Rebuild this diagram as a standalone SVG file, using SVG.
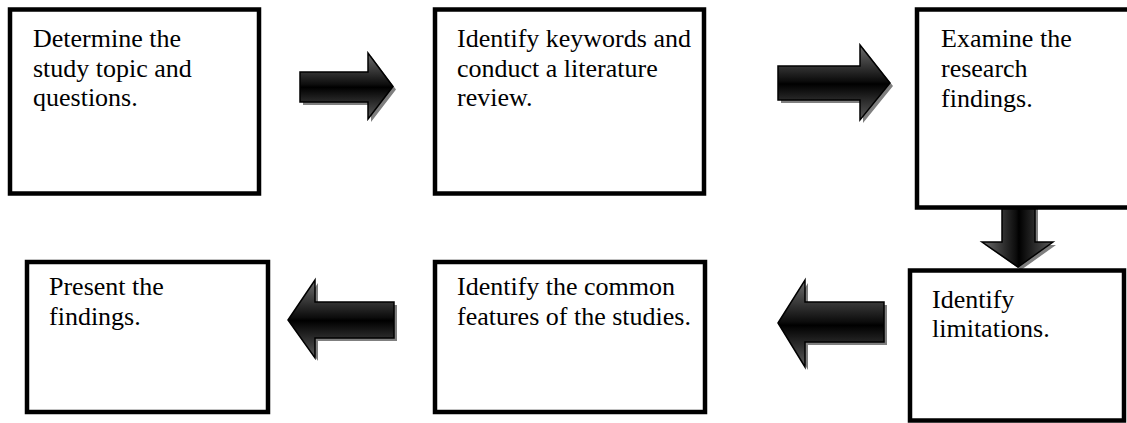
<svg xmlns="http://www.w3.org/2000/svg" width="1127" height="423" viewBox="0 0 1127 423">
<style>
.box{fill:#fff;stroke:#000;stroke-width:4.5}
.lbl{font-family:"Liberation Serif","Times New Roman",serif;font-size:26px;fill:#000}
.arr{stroke:#000;stroke-width:1.5;stroke-linejoin:miter}
.sh{fill:#7f7f7f}
</style>
<defs>
<linearGradient id="gv" x1="0" y1="0" x2="0" y2="1">
<stop offset="0" stop-color="#6e6e6e"/>
<stop offset="0.48" stop-color="#0c0c0c"/>
<stop offset="0.52" stop-color="#000"/>
<stop offset="1" stop-color="#5c5c5c"/>
</linearGradient>
<linearGradient id="gh" x1="0" y1="0" x2="1" y2="0">
<stop offset="0" stop-color="#6e6e6e"/>
<stop offset="0.48" stop-color="#0c0c0c"/>
<stop offset="0.52" stop-color="#000"/>
<stop offset="1" stop-color="#5c5c5c"/>
</linearGradient>
</defs>
<g id="connectors">
<g id="a1">
<polygon class="sh" points="303,75 371,75 371,56 396,89.5 371,122 371,105 303,105"/>
<polygon class="arr" fill="url(#gv)" points="300,72 368,72 368,53 393,86.5 368,119 368,102 300,102"/>
</g>
<g id="a2">
<polygon class="sh" points="781,69 863,69 863,48 893,86 863,123 863,103 781,103"/>
<polygon class="arr" fill="url(#gv)" points="778,66 860,66 860,45 890,83 860,120 860,100 778,100"/>
</g>
<g id="a3">
<polygon class="sh" points="1005,208 1038,208 1038,245 1056,245 1021,270 985,245 1005,245"/>
<polygon class="arr" fill="url(#gh)" points="1002,207 1035,207 1035,242 1053,242 1018,267 982,242 1002,242"/>
</g>
<g id="a4">
<polygon class="sh" points="781,326 808,283 808,305 887,305 887,345 808,345 808,370"/>
<polygon class="arr" fill="url(#gv)" points="778,323 805,280 805,302 884,302 884,342 805,342 805,367"/>
</g>
<g id="a5">
<polygon class="sh" points="291,323 318,283 318,305 397,305 397,341 318,341 318,361"/>
<polygon class="arr" fill="url(#gv)" points="288,320 315,280 315,302 394,302 394,338 315,338 315,358"/>
</g>
</g>
<g id="n1">
<rect class="box" x="10" y="9.5" width="249" height="184"/>
<text class="lbl" x="33" y="47">Determine the</text>
<text class="lbl" x="33" y="76.5">study topic and</text>
<text class="lbl" x="33" y="106">questions.</text>
</g>
<g id="n2">
<rect class="box" x="435" y="9.5" width="269" height="184"/>
<text class="lbl" x="457" y="47">Identify keywords and</text>
<text class="lbl" x="457" y="76.5">conduct a literature</text>
<text class="lbl" x="457" y="106">review.</text>
</g>
<g id="n3">
<rect class="box" x="917" y="9.5" width="220" height="198"/>
<text class="lbl" x="941" y="47">Examine the</text>
<text class="lbl" x="941" y="77">research</text>
<text class="lbl" x="941" y="107">findings.</text>
</g>
<g id="n4">
<rect class="box" x="910" y="270.5" width="214" height="150"/>
<text class="lbl" x="932" y="308">Identify</text>
<text class="lbl" x="932" y="337">limitations.</text>
</g>
<g id="n5">
<rect class="box" x="27" y="262" width="241" height="150"/>
<text class="lbl" x="49" y="295">Present the</text>
<text class="lbl" x="49" y="325">findings.</text>
</g>
<g id="n6">
<rect class="box" x="435" y="262" width="270" height="150"/>
<text class="lbl" x="457" y="295">Identify the common</text>
<text class="lbl" x="457" y="325">features of the studies.</text>
</g>
</svg>
